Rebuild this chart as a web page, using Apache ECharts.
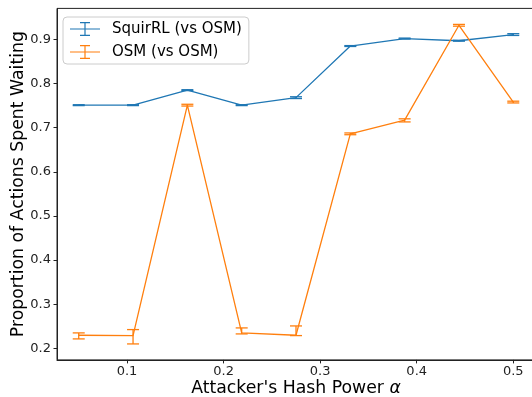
<!DOCTYPE html>
<html>
<head>
<meta charset="utf-8">
<script src="https://cdn.jsdelivr.net/npm/echarts@6/dist/echarts.min.js"></script>
<style>
  html, body { margin: 0; padding: 0; background: #fff; }
  #chart { width: 532px; height: 397px; }
</style>
</head>
<body>
<div id="chart"></div>
<script>
// Attacker hash power values (x axis)
const alpha = [0.05, 0.10625, 0.1625, 0.21875, 0.275, 0.33125, 0.3875, 0.44375, 0.5];

// SquirRL agent playing against OSM: mean and error-bar bounds
const squirrlMean = [0.751, 0.751, 0.785, 0.751, 0.768, 0.885, 0.902, 0.897, 0.911];
const squirrlLow  = [0.750, 0.750, 0.784, 0.750, 0.766, 0.884, 0.901, 0.896, 0.909];
const squirrlHigh = [0.752, 0.752, 0.786, 0.752, 0.770, 0.886, 0.903, 0.898, 0.913];

// OSM agent playing against OSM: mean and error-bar bounds
const osmMean = [0.2295, 0.2287, 0.751, 0.2348, 0.2295, 0.686, 0.717, 0.932, 0.758];
const osmLow  = [0.2212, 0.2098, 0.749, 0.2325, 0.2287, 0.684, 0.713, 0.930, 0.756];
const osmHigh = [0.2348, 0.2423, 0.753, 0.2461, 0.2506, 0.688, 0.720, 0.934, 0.760];

const xTicks = [0.1, 0.2, 0.3, 0.4, 0.5];
const yTicks = [0.2, 0.3, 0.4, 0.5, 0.6, 0.7, 0.8, 0.9];

const names = ['SquirRL (vs OSM)', 'OSM (vs OSM)'];
const colors = ['#1f77b4', '#ff7f0e'];

const FONT = 'DejaVu Sans';

function pairs(xs, ys) { return xs.map((x, i) => [x, ys[i]]); }
function triples(xs, lo, hi) { return xs.map((x, i) => [x, lo[i], hi[i]]); }

function errorBar(color) {
  return function (params, api) {
    const x = api.value(0);
    const pLo = api.coord([x, api.value(1)]);
    const pHi = api.coord([x, api.value(2)]);
    const cap = 6;
    const style = { stroke: color, lineWidth: 1.3, fill: null };
    return {
      type: 'group',
      children: [
        { type: 'line', shape: { x1: pLo[0], y1: pLo[1], x2: pHi[0], y2: pHi[1] }, style },
        { type: 'line', shape: { x1: pHi[0] - cap, y1: pHi[1], x2: pHi[0] + cap, y2: pHi[1] }, style },
        { type: 'line', shape: { x1: pLo[0] - cap, y1: pLo[1], x2: pLo[0] + cap, y2: pLo[1] }, style }
      ]
    };
  };
}

// Legend glyph: horizontal line with a capped vertical error bar
const errIcon = 'path://M0 7.4h30v1.2h-30Z M14.4 1h1.2v14h-1.2Z M10 1h10v1.2h-10Z M10 13.8h10v1.2h-10Z';

const chart = echarts.init(document.getElementById('chart'), null, { renderer: 'canvas' });

const axisCommon = {
  type: 'value',
  nameLocation: 'middle',
  nameMoveOverlap: false,
  axisLine: { show: true, lineStyle: { color: '#222', width: 1 } },
  axisTick: { show: true, length: 3.5, inside: false, lineStyle: { color: '#222', width: 1 } },
  splitLine: { show: false },
  axisLabel: { fontFamily: FONT, fontSize: 13, color: '#222' }
};

chart.setOption({
  animation: false,
  backgroundColor: '#fff',
  grid: {
    left: 57, right: -3, top: 8.4, bottom: 37.1,
    outerBoundsMode: 'none',
    containLabel: false,
    show: true, borderColor: '#222', borderWidth: 1, backgroundColor: 'transparent'
  },
  legend: {
    left: 63, top: 17,
    orient: 'vertical',
    padding: [4, 7, 4, 7],
    itemWidth: 30, itemHeight: 16, itemGap: 7,
    borderColor: '#cccccc', borderWidth: 1, borderRadius: 4,
    backgroundColor: 'rgba(255,255,255,0.8)',
    textStyle: { fontFamily: FONT, fontSize: 15, color: '#000', lineHeight: 16, padding: [0, 0, 0, 7] },
    itemStyle: { borderWidth: 0 },
    data: names.map((n, i) => ({ name: n, icon: errIcon, itemStyle: { color: colors[i] } }))
  },
  xAxis: Object.assign({}, axisCommon, {
    min: 0.0275, max: 0.5225,
    name: "Attacker's Hash Power {i|α}",
    nameGap: 20,
    nameTextStyle: {
      fontFamily: FONT, fontSize: 17.3, color: '#000',
      rich: { i: { fontFamily: FONT, fontSize: 17.3, fontStyle: 'italic', color: '#000' } }
    },
    axisTick: Object.assign({}, axisCommon.axisTick, { customValues: xTicks }),
    axisLabel: Object.assign({}, axisCommon.axisLabel, { customValues: xTicks, margin: 5, formatter: v => v.toFixed(1) })
  }),
  yAxis: Object.assign({}, axisCommon, {
    min: 0.1736, max: 0.9703,
    name: 'Proportion of Actions Spent Waiting',
    nameGap: 30,
    nameTextStyle: { fontFamily: FONT, fontSize: 17.3, color: '#000' },
    axisTick: Object.assign({}, axisCommon.axisTick, { customValues: yTicks }),
    axisLabel: Object.assign({}, axisCommon.axisLabel, { customValues: yTicks, margin: 6, formatter: v => v.toFixed(1) })
  }),
  series: [
    {
      name: names[0], type: 'line', data: pairs(alpha, squirrlMean),
      symbol: 'none', color: colors[0], lineStyle: { width: 1.3, color: colors[0] }, z: 3
    },
    {
      name: names[0], type: 'custom', data: triples(alpha, squirrlLow, squirrlHigh),
      renderItem: errorBar(colors[0]), color: colors[0], z: 3
    },
    {
      name: names[1], type: 'line', data: pairs(alpha, osmMean),
      symbol: 'none', color: colors[1], lineStyle: { width: 1.3, color: colors[1] }, z: 4
    },
    {
      name: names[1], type: 'custom', data: triples(alpha, osmLow, osmHigh),
      renderItem: errorBar(colors[1]), color: colors[1], z: 4
    }
  ]
});
</script>
</body>
</html>
